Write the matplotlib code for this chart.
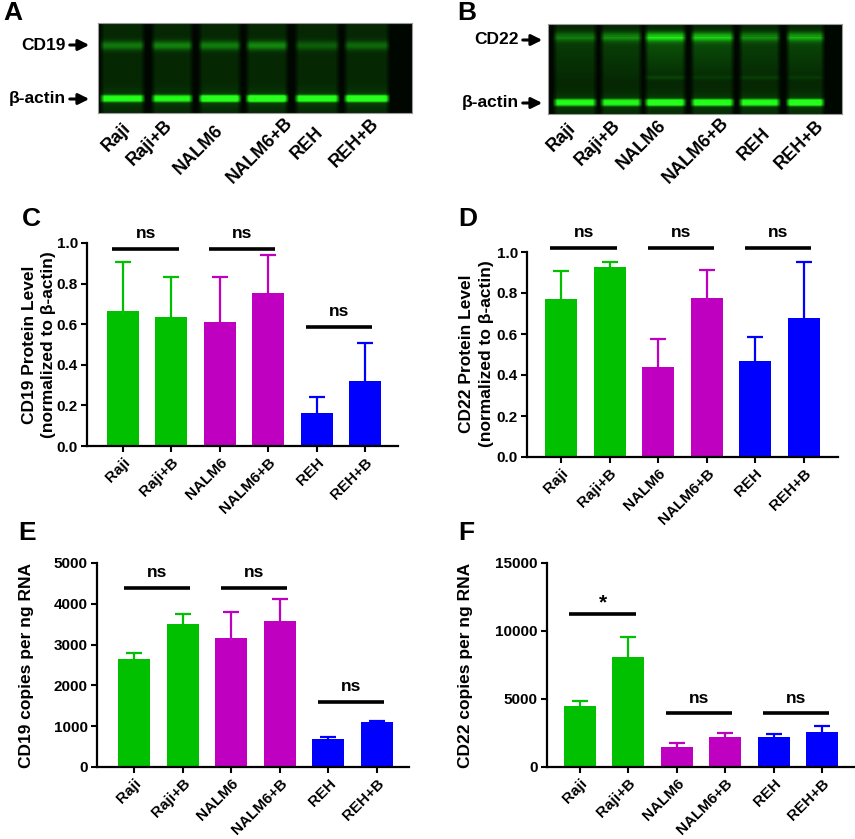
import numpy as np
import matplotlib
matplotlib.use('Agg')
import matplotlib.pyplot as plt

plt.rcParams['font.family'] = ['Liberation Sans', 'DejaVu Sans']
plt.rcParams['font.weight'] = 'bold'

W, H = 855, 839

cells = ['Raji', 'Raji+B', 'NALM6', 'NALM6+B', 'REH', 'REH+B']
bar_colors = ['#00c000', '#00c000', '#c000c0', '#c000c0', '#0000ff', '#0000ff']

# densitometry, normalized to beta-actin
cd19_protein = [0.665, 0.637, 0.611, 0.755, 0.165, 0.322]
cd19_protein_err = [0.243, 0.194, 0.220, 0.184, 0.075, 0.184]
cd22_protein = [0.769, 0.927, 0.438, 0.775, 0.468, 0.678]
cd22_protein_err = [0.140, 0.024, 0.137, 0.136, 0.118, 0.273]

# qPCR copies per ng RNA
cd19_copies = [2647, 3495, 3162, 3569, 686, 1103]
cd19_copies_err = [147, 262, 627, 549, 57, 32]
cd22_copies = [4456, 8088, 1470, 2206, 2206, 2544]
cd22_copies_err = [397, 1441, 295, 316, 220, 493]

# significance brackets: (first bar, last bar, height, label)
sig_c = [(0, 1, 0.972, 'ns'), (2, 3, 0.972, 'ns'), (4, 5, 0.586, 'ns')]
sig_d = [(0, 1, 1.021, 'ns'), (2, 3, 1.021, 'ns'), (4, 5, 1.021, 'ns')]
sig_e = [(0, 1, 4387, 'ns'), (2, 3, 4387, 'ns'), (4, 5, 1593, 'ns')]
sig_f = [(0, 1, 11250, '*'), (2, 3, 3941, 'ns'), (4, 5, 3941, 'ns')]

# relative band intensities on the blots
cd19_band = [0.30, 0.34, 0.32, 0.36, 0.20, 0.24]
actin_a = [0.75, 0.72, 0.88, 0.95, 0.82, 0.88]
cd22_band = [0.26, 0.32, 0.60, 0.52, 0.32, 0.42]
minor_b = [0.0, 0.0, 0.08, 0.05, 0.07, 0.05]
actin_b = [0.72, 0.70, 0.82, 0.78, 0.74, 0.84]


def px_rect(l, t, r, b):
    return [l / W, 1 - b / H, (r - l) / W, (b - t) / H]


fig = plt.figure(figsize=(W / 100, H / 100), dpi=100)
lay = fig.add_axes([0, 0, 1, 1])
lay.set_xlim(0, W)
lay.set_ylim(H, 0)
lay.axis('off')


def soften(a, n):
    k = np.ones(n) / n
    a = np.apply_along_axis(lambda r: np.convolve(r, k, mode='same'), 1, a)
    return a


def blot(rect, lanes, top_band, actin, top_y, actin_y, smear, minor=None):
    l, t, r, b = rect
    w, h = r - l, b - t
    yy = np.arange(h)[:, None]
    v = np.full((h, w), 0.025)
    for k, (x0, x1) in enumerate(lanes):
        cols = slice(x0 - l, x1 - l)
        prof = 0.15 + top_band[k] * np.exp(-((yy - (top_y - t)) / 4.5) ** 2)
        prof = prof + actin[k] * np.exp(-((yy - (actin_y - t)) / 3.6) ** 4)
        prof = prof + 0.12 * actin[k] * np.exp(-((yy - (actin_y - t)) / 8.0) ** 2)
        if smear:
            tail = np.clip((yy - (top_y - t)) / 45.0, 0, 1)
            prof = prof + top_band[k] * 0.3 * (1 - tail) * (yy > top_y - t)
        if minor is not None:
            prof = prof + minor[k] * np.exp(-((yy - 53) / 2.0) ** 2)
        v[:, cols] = prof
    v = soften(v, 5)
    img = np.zeros((h, w, 3))
    img[..., 1] = np.clip(v * 1.05, 0, 1)
    img[..., 0] = np.clip(v * 0.14, 0, 1)
    img[..., 2] = np.clip(v * 0.1, 0, 1)
    ax = fig.add_axes(px_rect(l, t, r, b))
    ax.imshow(img, aspect='auto', interpolation='bilinear')
    ax.set_xticks([])
    ax.set_yticks([])
    for s in ax.spines.values():
        s.set_color('#9a9a9a')
        s.set_linewidth(0.8)
    return ax


lanes_a = [(102, 143), (153, 191), (200, 239), (247, 286), (296, 337), (345, 387)]
lanes_b = [(555, 595), (602, 640), (646, 684), (692, 732), (740, 778), (787, 822)]
blot((98, 23, 412, 113), lanes_a, cd19_band, actin_a, 45, 98, False)
blot((548, 24, 842, 114), lanes_b, cd22_band, actin_b, 36, 102, True, minor_b)


def arrow_label(txt, x_end, y):
    lay.text(x_end, y, txt, ha='right', va='center', fontsize=12.5)
    lay.annotate('', xy=(x_end + 26, y), xytext=(x_end + 1, y),
                 arrowprops=dict(arrowstyle='-|>', color='k', lw=2.2,
                                 mutation_scale=16))


arrow_label('CD19', 66, 45)
arrow_label('β-actin', 66, 99)
arrow_label('CD22', 519, 40)
arrow_label('β-actin', 519, 103)

blot_lab_a = [(128, 126), (170, 123), (220, 128), (290, 120), (321, 130), (376, 121)]
blot_lab_b = [(573, 126), (618, 123), (663, 123), (726, 120), (768, 131), (821, 123)]
for name, (x, y) in zip(cells, blot_lab_a):
    lay.text(x, y, name, rotation=45, ha='right', va='center',
             rotation_mode='anchor', fontsize=13)
for name, (x, y) in zip(cells, blot_lab_b):
    lay.text(x, y, name, rotation=45, ha='right', va='center',
             rotation_mode='anchor', fontsize=13)

for letter, x, y in [('A', 3, 13), ('B', 457, 13), ('C', 22, 219),
                     ('D', 458, 219), ('E', 18, 533), ('F', 458, 533)]:
    lay.text(x, y, letter, ha='left', va='center', fontsize=19)


def bar_panel(rect, xlim, vals, errs, ymax, yticks, ylabels, sigs):
    ax = fig.add_axes(px_rect(*rect))
    x = np.arange(len(vals))
    ax.bar(x, vals, width=0.66, color=bar_colors, zorder=2)
    for xi, v, e, c in zip(x, vals, errs, bar_colors):
        eb = ax.errorbar(xi, v, yerr=[[0], [e]], color=c, lw=1.6, capsize=6,
                         capthick=1.6, zorder=1, clip_on=False)
        eb[1][0].set_visible(False)
    ax.set_xlim(*xlim)
    ax.set_ylim(0, ymax)
    ax.set_yticks(yticks)
    ax.set_yticklabels(ylabels)
    ax.set_xticks(x)
    ax.set_xticklabels(cells, rotation=45, ha='right', rotation_mode='anchor')
    ax.tick_params(axis='both', direction='out', length=4, width=1.5,
                   labelsize=11, pad=2.5)
    ax.tick_params(axis='x', pad=2.5)
    for s in ['top', 'right']:
        ax.spines[s].set_visible(False)
    for s in ['left', 'bottom']:
        ax.spines[s].set_linewidth(1.6)
    ax.patch.set_alpha(0)
    for i, j, y, lab in sigs:
        ax.plot([i - 0.22, j + 0.15], [y, y], color='k', lw=2.6,
                clip_on=False, solid_capstyle='butt')
        off = 8 if lab == '*' else 11
        ax.annotate(lab, xy=((i + j) / 2 - 0.03, y), xytext=(0, off),
                    textcoords='offset points', ha='center', va='center',
                    fontsize=12.5 if lab == 'ns' else 15,
                    annotation_clip=False)
    return ax


bar_panel((87, 243, 398, 446), (-0.74, 5.68), cd19_protein, cd19_protein_err,
          1.0, [0, 0.2, 0.4, 0.6, 0.8, 1.0],
          ['0.0', '0.2', '0.4', '0.6', '0.8', '1.0'], sig_c)
bar_panel((527, 252, 838, 457), (-0.70, 5.70), cd22_protein, cd22_protein_err,
          1.0, [0, 0.2, 0.4, 0.6, 0.8, 1.0],
          ['0.0', '0.2', '0.4', '0.6', '0.8', '1.0'], sig_d)
bar_panel((97, 563, 409, 767), (-0.77, 5.66), cd19_copies, cd19_copies_err,
          5000, [0, 1000, 2000, 3000, 4000, 5000],
          ['0', '1000', '2000', '3000', '4000', '5000'], sig_e)
bar_panel((547, 563, 855, 767), (-0.68, 5.68), cd22_copies, cd22_copies_err,
          15000, [0, 5000, 10000, 15000],
          ['0', '5000', '10000', '15000'], sig_f)

lay.text(30, 345, 'CD19 Protein Level', rotation=90, ha='center', va='center', fontsize=12.5)
lay.text(48, 345, '(normalized to β-actin)', rotation=90, ha='center', va='center', fontsize=12.5)
lay.text(466, 354, 'CD22 Protein Level', rotation=90, ha='center', va='center', fontsize=12.5)
lay.text(486, 354, '(normalized to β-actin)', rotation=90, ha='center', va='center', fontsize=12.5)
lay.text(27, 665, 'CD19 copies per ng RNA', rotation=90, ha='center', va='center', fontsize=12.5)
lay.text(465, 665, 'CD22 copies per ng RNA', rotation=90, ha='center', va='center', fontsize=12.5)

fig.savefig('out.png', dpi=100)
